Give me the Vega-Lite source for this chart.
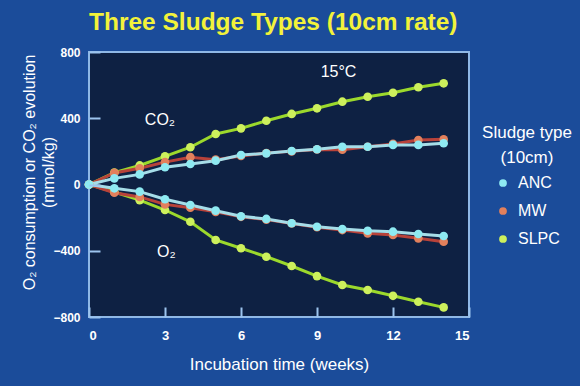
{
  "$schema": "https://vega.github.io/schema/vega-lite/v6.json",
  "width": 380,
  "height": 265,
  "autosize": "none",
  "padding": {"left": 89, "top": 52, "right": 111, "bottom": 69},
  "background": "#1b4c9a",
  "title": {"text": "Three Sludge Types (10cm rate)", "anchor": "start", "frame": "group", "color": "#f2f23a", "font": "Liberation Sans", "fontSize": 24.5, "fontWeight": "bold", "offset": 11},
  "config": {"view": {"fill": "#0e2143", "stroke": "#8fb8e6", "strokeWidth": 2}, "font": "Liberation Sans"},
  "datasets": {
    "series": [
      {"sludge": "SLPC", "gas": "CO2", "week": 0, "value": 0},
      {"sludge": "SLPC", "gas": "CO2", "week": 1, "value": 72},
      {"sludge": "SLPC", "gas": "CO2", "week": 2, "value": 115},
      {"sludge": "SLPC", "gas": "CO2", "week": 3, "value": 170},
      {"sludge": "SLPC", "gas": "CO2", "week": 4, "value": 225},
      {"sludge": "SLPC", "gas": "CO2", "week": 5, "value": 305},
      {"sludge": "SLPC", "gas": "CO2", "week": 6, "value": 339},
      {"sludge": "SLPC", "gas": "CO2", "week": 7, "value": 385},
      {"sludge": "SLPC", "gas": "CO2", "week": 8, "value": 426},
      {"sludge": "SLPC", "gas": "CO2", "week": 9, "value": 460},
      {"sludge": "SLPC", "gas": "CO2", "week": 10, "value": 500},
      {"sludge": "SLPC", "gas": "CO2", "week": 11, "value": 530},
      {"sludge": "SLPC", "gas": "CO2", "week": 12, "value": 554},
      {"sludge": "SLPC", "gas": "CO2", "week": 13, "value": 587},
      {"sludge": "SLPC", "gas": "CO2", "week": 14, "value": 611},
      {"sludge": "SLPC", "gas": "O2", "week": 0, "value": 0},
      {"sludge": "SLPC", "gas": "O2", "week": 1, "value": -45},
      {"sludge": "SLPC", "gas": "O2", "week": 2, "value": -94},
      {"sludge": "SLPC", "gas": "O2", "week": 3, "value": -154},
      {"sludge": "SLPC", "gas": "O2", "week": 4, "value": -225},
      {"sludge": "SLPC", "gas": "O2", "week": 5, "value": -335},
      {"sludge": "SLPC", "gas": "O2", "week": 6, "value": -385},
      {"sludge": "SLPC", "gas": "O2", "week": 7, "value": -436},
      {"sludge": "SLPC", "gas": "O2", "week": 8, "value": -492},
      {"sludge": "SLPC", "gas": "O2", "week": 9, "value": -553},
      {"sludge": "SLPC", "gas": "O2", "week": 10, "value": -607},
      {"sludge": "SLPC", "gas": "O2", "week": 11, "value": -637},
      {"sludge": "SLPC", "gas": "O2", "week": 12, "value": -672},
      {"sludge": "SLPC", "gas": "O2", "week": 13, "value": -708},
      {"sludge": "SLPC", "gas": "O2", "week": 14, "value": -742},
      {"sludge": "MW", "gas": "CO2", "week": 0, "value": 0},
      {"sludge": "MW", "gas": "CO2", "week": 1, "value": 70},
      {"sludge": "MW", "gas": "CO2", "week": 2, "value": 98},
      {"sludge": "MW", "gas": "CO2", "week": 3, "value": 135},
      {"sludge": "MW", "gas": "CO2", "week": 4, "value": 165},
      {"sludge": "MW", "gas": "CO2", "week": 5, "value": 150},
      {"sludge": "MW", "gas": "CO2", "week": 6, "value": 172},
      {"sludge": "MW", "gas": "CO2", "week": 7, "value": 190},
      {"sludge": "MW", "gas": "CO2", "week": 8, "value": 200},
      {"sludge": "MW", "gas": "CO2", "week": 9, "value": 212},
      {"sludge": "MW", "gas": "CO2", "week": 10, "value": 210},
      {"sludge": "MW", "gas": "CO2", "week": 11, "value": 228},
      {"sludge": "MW", "gas": "CO2", "week": 12, "value": 245},
      {"sludge": "MW", "gas": "CO2", "week": 13, "value": 268},
      {"sludge": "MW", "gas": "CO2", "week": 14, "value": 273},
      {"sludge": "MW", "gas": "O2", "week": 0, "value": 0},
      {"sludge": "MW", "gas": "O2", "week": 1, "value": -50},
      {"sludge": "MW", "gas": "O2", "week": 2, "value": -75},
      {"sludge": "MW", "gas": "O2", "week": 3, "value": -120},
      {"sludge": "MW", "gas": "O2", "week": 4, "value": -140},
      {"sludge": "MW", "gas": "O2", "week": 5, "value": -165},
      {"sludge": "MW", "gas": "O2", "week": 6, "value": -195},
      {"sludge": "MW", "gas": "O2", "week": 7, "value": -212},
      {"sludge": "MW", "gas": "O2", "week": 8, "value": -235},
      {"sludge": "MW", "gas": "O2", "week": 9, "value": -258},
      {"sludge": "MW", "gas": "O2", "week": 10, "value": -275},
      {"sludge": "MW", "gas": "O2", "week": 11, "value": -295},
      {"sludge": "MW", "gas": "O2", "week": 12, "value": -305},
      {"sludge": "MW", "gas": "O2", "week": 13, "value": -325},
      {"sludge": "MW", "gas": "O2", "week": 14, "value": -345},
      {"sludge": "ANC", "gas": "CO2", "week": 0, "value": 0},
      {"sludge": "ANC", "gas": "CO2", "week": 1, "value": 37},
      {"sludge": "ANC", "gas": "CO2", "week": 2, "value": 61},
      {"sludge": "ANC", "gas": "CO2", "week": 3, "value": 104},
      {"sludge": "ANC", "gas": "CO2", "week": 4, "value": 124},
      {"sludge": "ANC", "gas": "CO2", "week": 5, "value": 144},
      {"sludge": "ANC", "gas": "CO2", "week": 6, "value": 178},
      {"sludge": "ANC", "gas": "CO2", "week": 7, "value": 188},
      {"sludge": "ANC", "gas": "CO2", "week": 8, "value": 202},
      {"sludge": "ANC", "gas": "CO2", "week": 9, "value": 213},
      {"sludge": "ANC", "gas": "CO2", "week": 10, "value": 228},
      {"sludge": "ANC", "gas": "CO2", "week": 11, "value": 228},
      {"sludge": "ANC", "gas": "CO2", "week": 12, "value": 239},
      {"sludge": "ANC", "gas": "CO2", "week": 13, "value": 239},
      {"sludge": "ANC", "gas": "CO2", "week": 14, "value": 249},
      {"sludge": "ANC", "gas": "O2", "week": 0, "value": 0},
      {"sludge": "ANC", "gas": "O2", "week": 1, "value": -23},
      {"sludge": "ANC", "gas": "O2", "week": 2, "value": -43},
      {"sludge": "ANC", "gas": "O2", "week": 3, "value": -89},
      {"sludge": "ANC", "gas": "O2", "week": 4, "value": -124},
      {"sludge": "ANC", "gas": "O2", "week": 5, "value": -158},
      {"sludge": "ANC", "gas": "O2", "week": 6, "value": -192},
      {"sludge": "ANC", "gas": "O2", "week": 7, "value": -208},
      {"sludge": "ANC", "gas": "O2", "week": 8, "value": -234},
      {"sludge": "ANC", "gas": "O2", "week": 9, "value": -255},
      {"sludge": "ANC", "gas": "O2", "week": 10, "value": -269},
      {"sludge": "ANC", "gas": "O2", "week": 11, "value": -279},
      {"sludge": "ANC", "gas": "O2", "week": 12, "value": -285},
      {"sludge": "ANC", "gas": "O2", "week": 13, "value": -299},
      {"sludge": "ANC", "gas": "O2", "week": 14, "value": -311}
    ],
    "notes": [
      {"label": "CO₂", "week": 2.8, "value": 390},
      {"label": "15°C", "week": 9.85, "value": 680},
      {"label": "O₂", "week": 3.05, "value": -410}
    ]
  },
  "layer": [
    {
      "mark": {"type": "rule", "color": "#8fb8e6", "strokeWidth": 2},
      "encoding": {"y": {"datum": 0, "type": "quantitative"}}
    },
    {
      "data": {"name": "series"},
      "mark": {"type": "line", "strokeWidth": 3},
      "encoding": {
        "x": {"field": "week", "type": "quantitative"},
        "y": {"field": "value", "type": "quantitative"},
        "detail": {"field": "gas", "type": "nominal"},
        "color": {"field": "sludge", "type": "nominal", "scale": {"domain": ["ANC", "MW", "SLPC"], "range": ["#a6dde8", "#b8423a", "#9cd92c"]}, "legend": null}
      }
    },
    {
      "data": {"name": "series"},
      "mark": {"type": "point", "filled": true, "size": 75, "opacity": 1},
      "encoding": {
        "x": {"field": "week", "type": "quantitative", "scale": {"domain": [0, 15], "nice": false},
          "axis": {"values": [0, 3, 6, 9, 12, 15], "title": "Incubation time (weeks)", "grid": false, "domain": false, "ticks": true, "tickSize": -10, "tickWidth": 2, "tickColor": "#9cc4ee", "tickOpacity": 1, "zindex": 1, "labelColor": "white", "labelFontSize": 13, "labelFontWeight": "bold", "labelPadding": 22, "titleColor": "white", "titleFontSize": 17, "titleFontWeight": "normal", "titlePadding": 14}},
        "y": {"field": "value", "type": "quantitative", "scale": {"domain": [-800, 800], "nice": false},
          "axis": {"values": [-800, -400, 0, 400, 800], "title": ["O₂ consumption or CO₂ evolution", "(mmol/kg)"], "grid": false, "domain": false, "ticks": true, "tickSize": -11, "tickWidth": 2, "tickColor": "#9cc4ee", "tickOpacity": 1, "zindex": 1, "labelColor": "white", "labelFontSize": 12, "labelFontWeight": "bold", "labelPadding": 20, "titleColor": "white", "titleFontSize": 16, "titleFontWeight": "normal", "titleLineHeight": 19, "titlePadding": -4, "titleY": 120}},
        "color": {"field": "sludge", "type": "nominal", "scale": {"domain": ["ANC", "MW", "SLPC"], "range": ["#8eeaf2", "#e2805c", "#cdf05c"]},
          "legend": {"title": ["Sludge type", "(10cm)"], "orient": "none", "legendX": 393, "legendY": 73, "titleColor": "white", "titleFontSize": 17, "titleFontWeight": "normal", "titleAlign": "center", "titleAnchor": "middle", "titleLineHeight": 25, "titlePadding": 8, "labelColor": "white", "labelFontSize": 16, "labelOffset": 7, "symbolType": "circle", "symbolSize": 60, "symbolStrokeWidth": 0, "rowPadding": 12}}
      }
    },
    {
      "data": {"name": "notes"},
      "mark": {"type": "text", "color": "white", "fontSize": 16, "align": "center", "baseline": "middle"},
      "encoding": {
        "x": {"field": "week", "type": "quantitative"},
        "y": {"field": "value", "type": "quantitative"},
        "text": {"field": "label", "type": "nominal"}
      }
    }
  ],
  "resolve": {"scale": {"color": "independent"}}
}
